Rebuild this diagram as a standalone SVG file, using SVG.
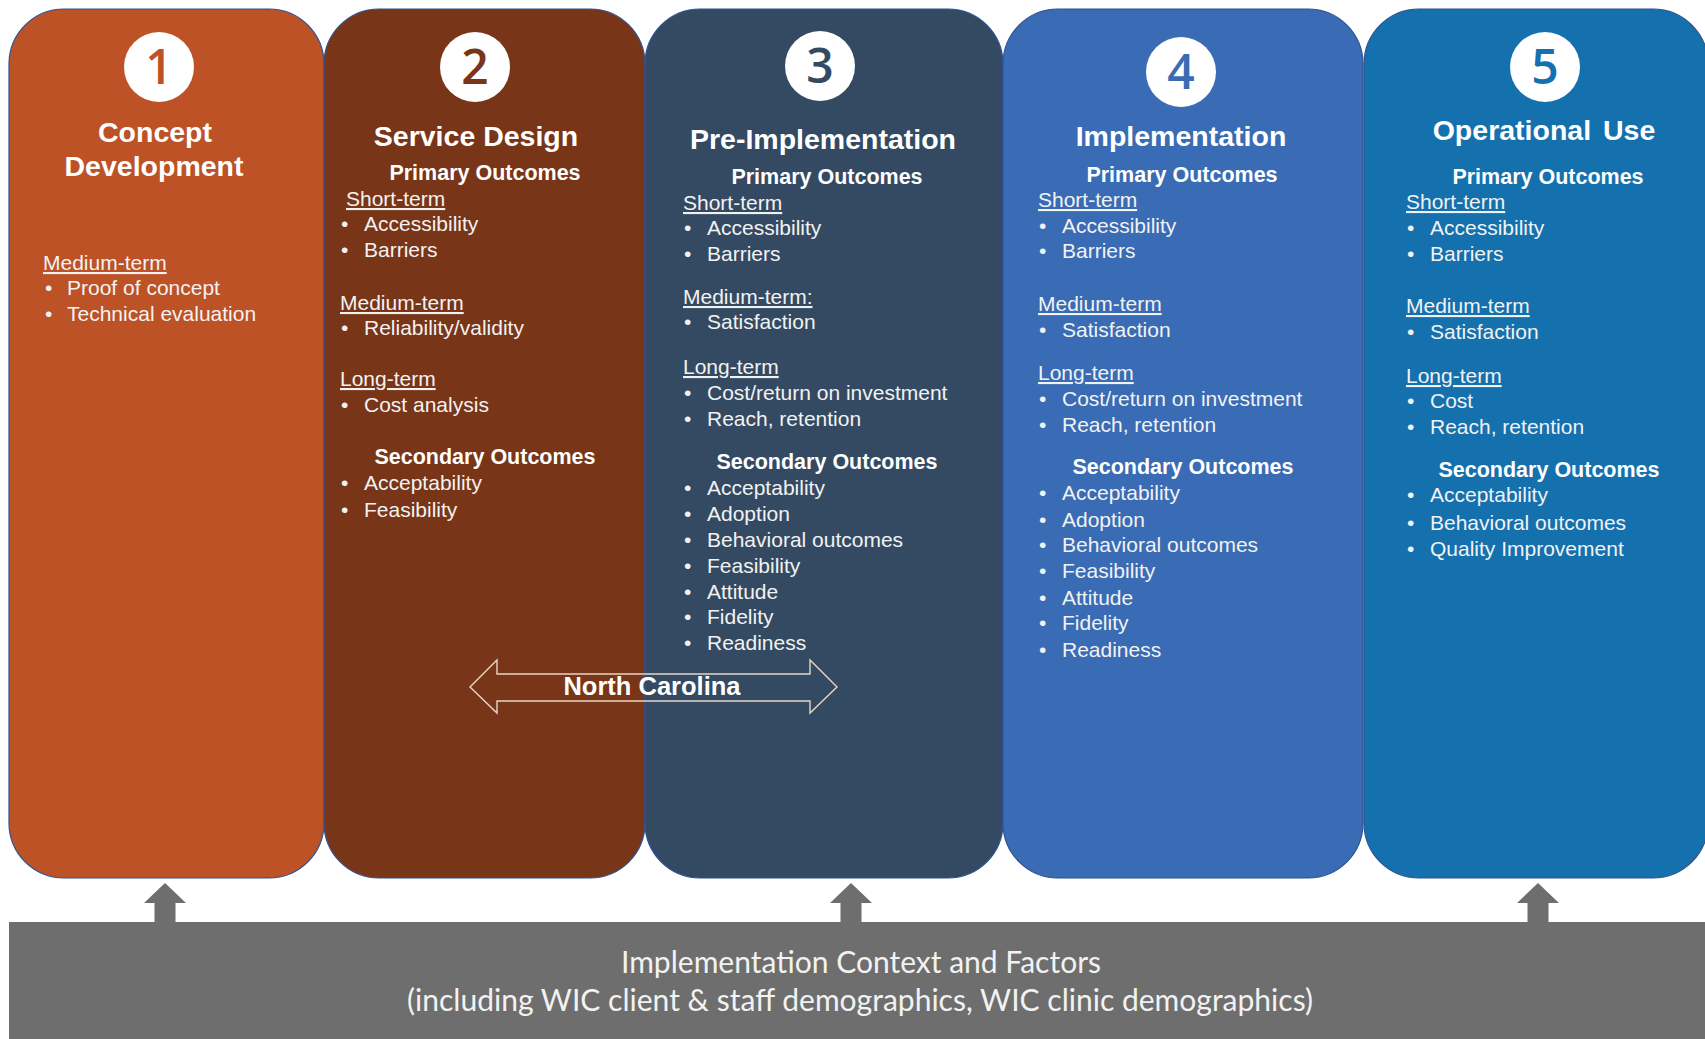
<svg xmlns="http://www.w3.org/2000/svg" width="1705" height="1039" viewBox="0 0 1705 1039">
<style>
  .col { stroke:#2F528F; stroke-width:1.2; }
  .t { font-family:"Liberation Sans", Arial, sans-serif; fill:#FFFFFF; }
  .title { font-size:28.5px; font-weight:bold; text-anchor:middle; }
  .hd { font-size:21.5px; font-weight:bold; text-anchor:middle; }
  .it { font-size:21px; fill:#F2F2F2; }
  .u { text-decoration:underline; }
  .num { font-family:"Open Sans", "Liberation Sans", sans-serif; font-size:48px; font-weight:600; text-anchor:middle; }
  .ctx { font-family:Lato, "Open Sans", sans-serif; font-size:30px; fill:#F2F2F2; text-anchor:middle; }
  .up { fill:#6E6E6E; }
</style>
<rect width="1705" height="1039" fill="#FFFFFF"/>

<g id="bar">
  <rect x="9" y="922" width="1700" height="120" fill="#6E6E6E"/>
  <text class="ctx" x="861" y="973" textLength="480" lengthAdjust="spacingAndGlyphs">Implementation Context and Factors</text>
  <text class="ctx" x="860" y="1011" textLength="906" lengthAdjust="spacingAndGlyphs">(including WIC client &amp; staff demographics, WIC clinic demographics)</text>
</g>

<g id="connectors">
  <polygon class="up" points="165,883 186,903 175.5,903 175.5,923 154.5,923 154.5,903 144,903"/>
  <polygon class="up" points="851,883 872,903 861.5,903 861.5,923 840.5,923 840.5,903 830,903"/>
  <polygon class="up" points="1538,883 1559,903 1548.5,903 1548.5,923 1527.5,923 1527.5,903 1517,903"/>
</g>

<g id="col1">
  <rect class="col" x="9" y="9" width="315" height="869" rx="55" ry="55" fill="#BC5226"/>
  <circle cx="159" cy="67" r="35" fill="#FFFFFF"/>
  <text class="num" x="159" y="84" fill="#BC5226">1</text>
  <text class="t title" x="155" y="142">Concept</text>
  <text class="t title" x="154" y="176">Development</text>
  <text class="t it u" x="43" y="270">Medium-term</text>
  <text class="t it" y="295"><tspan x="45">•</tspan><tspan x="67">Proof of concept</tspan></text>
  <text class="t it" y="321"><tspan x="45">•</tspan><tspan x="67">Technical  evaluation</tspan></text>
</g>

<g id="col2">
  <rect class="col" x="324" y="9" width="321" height="869" rx="55" ry="55" fill="#783517"/>
  <circle cx="475" cy="67" r="35" fill="#FFFFFF"/>
  <text class="num" x="475" y="84" fill="#783517">2</text>
  <text class="t title" x="476" y="146">Service Design</text>
  <text class="t hd" x="485" y="180">Primary Outcomes</text>
  <text class="t it u" x="346" y="206">Short-term</text>
  <text class="t it" y="231"><tspan x="341">•</tspan><tspan x="364">Accessibility</tspan></text>
  <text class="t it" y="257"><tspan x="341">•</tspan><tspan x="364">Barriers</tspan></text>
  <text class="t it u" x="340" y="310">Medium-term</text>
  <text class="t it" y="335"><tspan x="341">•</tspan><tspan x="364">Reliability/validity</tspan></text>
  <text class="t it u" x="340" y="386">Long-term</text>
  <text class="t it" y="412"><tspan x="341">•</tspan><tspan x="364">Cost analysis</tspan></text>
  <text class="t hd" x="485" y="464">Secondary Outcomes</text>
  <text class="t it" y="490"><tspan x="341">•</tspan><tspan x="364">Acceptability</tspan></text>
  <text class="t it" y="517"><tspan x="341">•</tspan><tspan x="364">Feasibility</tspan></text>
</g>

<g id="col3">
  <rect class="col" x="645" y="9" width="358" height="869" rx="55" ry="55" fill="#344A62"/>
  <circle cx="820" cy="66" r="35" fill="#FFFFFF"/>
  <text class="num" x="820" y="83" fill="#344A62">3</text>
  <text class="t title" x="823" y="149">Pre-Implementation</text>
  <text class="t hd" x="827" y="184">Primary Outcomes</text>
  <text class="t it u" x="683" y="210">Short-term</text>
  <text class="t it" y="235"><tspan x="684">•</tspan><tspan x="707">Accessibility</tspan></text>
  <text class="t it" y="261"><tspan x="684">•</tspan><tspan x="707">Barriers</tspan></text>
  <text class="t it u" x="683" y="304">Medium-term:</text>
  <text class="t it" y="329"><tspan x="684">•</tspan><tspan x="707">Satisfaction</tspan></text>
  <text class="t it u" x="683" y="374">Long-term</text>
  <text class="t it" y="400"><tspan x="684">•</tspan><tspan x="707">Cost/return  on investment</tspan></text>
  <text class="t it" y="426"><tspan x="684">•</tspan><tspan x="707">Reach, retention</tspan></text>
  <text class="t hd" x="827" y="469">Secondary Outcomes</text>
  <text class="t it" y="495"><tspan x="684">•</tspan><tspan x="707">Acceptability</tspan></text>
  <text class="t it" y="521"><tspan x="684">•</tspan><tspan x="707">Adoption</tspan></text>
  <text class="t it" y="547"><tspan x="684">•</tspan><tspan x="707">Behavioral outcomes</tspan></text>
  <text class="t it" y="573"><tspan x="684">•</tspan><tspan x="707">Feasibility</tspan></text>
  <text class="t it" y="599"><tspan x="684">•</tspan><tspan x="707">Attitude</tspan></text>
  <text class="t it" y="624"><tspan x="684">•</tspan><tspan x="707">Fidelity</tspan></text>
  <text class="t it" y="650"><tspan x="684">•</tspan><tspan x="707">Readiness</tspan></text>
</g>

<g id="col4">
  <rect class="col" x="1003" y="9" width="360" height="869" rx="55" ry="55" fill="#3A6BB5"/>
  <circle cx="1181" cy="72" r="35" fill="#FFFFFF"/>
  <text class="num" x="1181" y="89" fill="#3A6BB5">4</text>
  <text class="t title" x="1181" y="146">Implementation</text>
  <text class="t hd" x="1182" y="182">Primary Outcomes</text>
  <text class="t it u" x="1038" y="207">Short-term</text>
  <text class="t it" y="233"><tspan x="1039">•</tspan><tspan x="1062">Accessibility</tspan></text>
  <text class="t it" y="258"><tspan x="1039">•</tspan><tspan x="1062">Barriers</tspan></text>
  <text class="t it u" x="1038" y="311">Medium-term</text>
  <text class="t it" y="337"><tspan x="1039">•</tspan><tspan x="1062">Satisfaction</tspan></text>
  <text class="t it u" x="1038" y="380">Long-term</text>
  <text class="t it" y="406"><tspan x="1039">•</tspan><tspan x="1062">Cost/return  on investment</tspan></text>
  <text class="t it" y="432"><tspan x="1039">•</tspan><tspan x="1062">Reach, retention</tspan></text>
  <text class="t hd" x="1183" y="474">Secondary Outcomes</text>
  <text class="t it" y="500"><tspan x="1039">•</tspan><tspan x="1062">Acceptability</tspan></text>
  <text class="t it" y="527"><tspan x="1039">•</tspan><tspan x="1062">Adoption</tspan></text>
  <text class="t it" y="552"><tspan x="1039">•</tspan><tspan x="1062">Behavioral outcomes</tspan></text>
  <text class="t it" y="578"><tspan x="1039">•</tspan><tspan x="1062">Feasibility</tspan></text>
  <text class="t it" y="605"><tspan x="1039">•</tspan><tspan x="1062">Attitude</tspan></text>
  <text class="t it" y="630"><tspan x="1039">•</tspan><tspan x="1062">Fidelity</tspan></text>
  <text class="t it" y="657"><tspan x="1039">•</tspan><tspan x="1062">Readiness</tspan></text>
</g>

<g id="col5">
  <rect class="col" x="1364" y="9" width="344" height="869" rx="55" ry="55" fill="#1570AE"/>
  <circle cx="1545" cy="67" r="35" fill="#FFFFFF"/>
  <text class="num" x="1545" y="84" fill="#1570AE">5</text>
  <text class="t title" x="1544" y="140" word-spacing="4">Operational Use</text>
  <text class="t hd" x="1548" y="184">Primary Outcomes</text>
  <text class="t it u" x="1406" y="209">Short-term</text>
  <text class="t it" y="235"><tspan x="1407">•</tspan><tspan x="1430">Accessibility</tspan></text>
  <text class="t it" y="261"><tspan x="1407">•</tspan><tspan x="1430">Barriers</tspan></text>
  <text class="t it u" x="1406" y="313">Medium-term</text>
  <text class="t it" y="339"><tspan x="1407">•</tspan><tspan x="1430">Satisfaction</tspan></text>
  <text class="t it u" x="1406" y="383">Long-term</text>
  <text class="t it" y="408"><tspan x="1407">•</tspan><tspan x="1430">Cost</tspan></text>
  <text class="t it" y="434"><tspan x="1407">•</tspan><tspan x="1430">Reach, retention</tspan></text>
  <text class="t hd" x="1549" y="477">Secondary Outcomes</text>
  <text class="t it" y="502"><tspan x="1407">•</tspan><tspan x="1430">Acceptability</tspan></text>
  <text class="t it" y="530"><tspan x="1407">•</tspan><tspan x="1430">Behavioral outcomes</tspan></text>
  <text class="t it" y="556"><tspan x="1407">•</tspan><tspan x="1430">Quality  Improvement</tspan></text>
</g>

<g id="north-carolina">
  <polygon points="470,687 497,660 497,674 810,674 810,660 837,687 810,713 810,701 497,701 497,713" fill="none" stroke="#E6D6C6" stroke-width="1.4" stroke-linejoin="miter"/>
  <text class="t" x="652" y="695" font-size="25.5" font-weight="bold" text-anchor="middle">North Carolina</text>
</g>
</svg>
